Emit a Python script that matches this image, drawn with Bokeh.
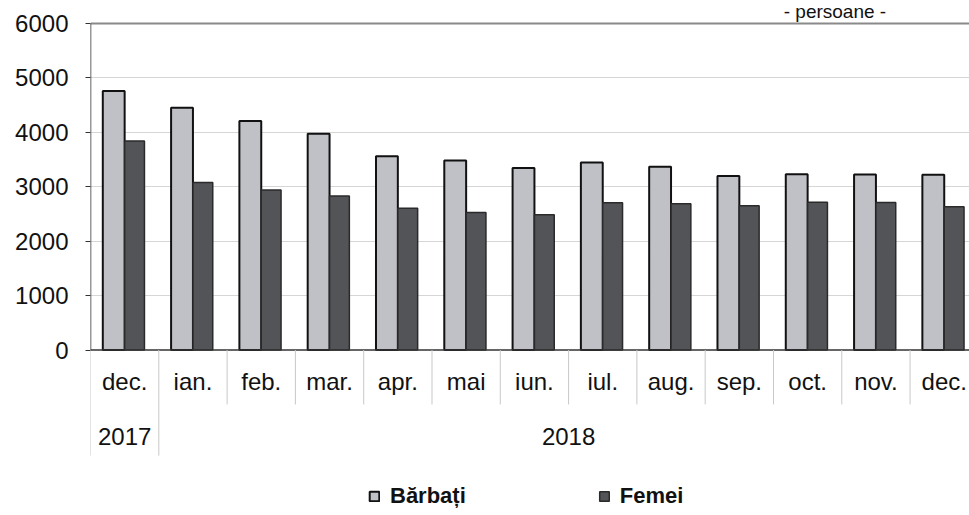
from bokeh.plotting import figure
from bokeh.models import Range1d, FixedTicker, ColumnDataSource, Legend, LegendItem
from bokeh.core.properties import value
from bokeh.embed import file_html
from bokeh.resources import INLINE

# ---- data ----
months = ["dec.", "ian.", "feb.", "mar.", "apr.", "mai", "iun.", "iul.", "aug.", "sep.", "oct.", "nov.", "dec."]
years = ["2017", "2018"]
year_counts = [1, 12]
barbati = [4760, 4450, 4210, 3975, 3560, 3485, 3345, 3445, 3370, 3200, 3230, 3225, 3220]
femei = [3840, 3080, 2940, 2830, 2605, 2525, 2485, 2705, 2690, 2650, 2715, 2710, 2635]
y_ticks = [0, 1000, 2000, 3000, 4000, 5000, 6000]
series_names = ["Bărbați", "Femei"]
unit_label = "- persoane -"

FONT = "Liberation Sans"
n = len(months)
idx = list(range(n))

p = figure(width=969, height=515, output_backend="svg", toolbar_location=None,
           x_range=Range1d(0, 12.87), y_range=Range1d(-3041, 6423),
           min_border_left=90, min_border_right=0, min_border_top=0, min_border_bottom=0)
p.outline_line_color = None
p.background_fill_color = "white"
p.border_fill_color = "white"

# axes
p.xaxis.visible = False
p.xgrid.visible = False
p.yaxis.ticker = FixedTicker(ticks=y_ticks)
p.yaxis.axis_line_color = None
p.yaxis.major_tick_in = 0
p.yaxis.major_tick_out = 5
p.yaxis.major_tick_line_color = "#333333"
p.yaxis.minor_tick_line_color = None
p.yaxis.major_label_standoff = 17
p.yaxis.major_label_text_font = FONT
p.yaxis.major_label_text_font_size = "24px"
p.yaxis.major_label_text_color = "#111111"
p.ygrid.ticker = FixedTicker(ticks=y_ticks[1:-1])
p.ygrid.grid_line_color = "#d6d6d6"
p.ygrid.grid_line_width = 1

# top border line at max tick
p.segment(x0=[0], x1=[n], y0=[y_ticks[-1]], y1=[y_ticks[-1]], line_color="#8a8a8a", line_width=2)

# bars
src = ColumnDataSource(dict(xb=[i + 0.34 for i in idx], xf=[i + 0.645 for i in idx],
                            b=barbati, f=femei))
rb = p.vbar(x="xb", top="b", bottom=0, width=0.32, source=src,
            fill_color="#bfc1c6", line_color="#111111", line_width=2)
rf = p.vbar(x="xf", top="f", bottom=0, width=0.29, source=src,
            fill_color="#535458", line_color="#2a2a2a", line_width=1.5)

# value axis line and zero line
p.segment(x0=[0], x1=[0], y0=[y_ticks[0]], y1=[y_ticks[-1]], line_color="#333333", line_width=1.5)
p.segment(x0=[0], x1=[n], y0=[0], y1=[0], line_color="#333333", line_width=1.5)

# category table separators
year_bounds = [0]
for c in year_counts:
    year_bounds.append(year_bounds[-1] + c)
month_bounds = [b for b in range(1, n) if b not in year_bounds]
p.segment(x0=month_bounds, x1=month_bounds, y0=[0] * len(month_bounds), y1=[-1000] * len(month_bounds),
          line_color="#c8c8c8", line_width=1)
p.segment(x0=year_bounds, x1=year_bounds, y0=[0] * len(year_bounds), y1=[-1940] * len(year_bounds),
          line_color="#c8c8c8", line_width=1)

# category labels
p.text(x=[i + 0.5 for i in idx], y=[-579] * n, text=months,
       text_font=value(FONT), text_font_size="24px", text_color="#111111",
       text_align="center", text_baseline="middle")
year_centers = [year_bounds[k] + year_counts[k] / 2 for k in range(len(years))]
p.text(x=year_centers, y=[-1590] * len(years), text=years,
       text_font=value(FONT), text_font_size="24px", text_color="#111111",
       text_align="center", text_baseline="middle")

# unit label (above the top line)
p.text(x=[10.9], y=[6030], text=[unit_label], text_font=value(FONT), text_font_size="19px",
       text_color="#111111", text_align="center", text_baseline="bottom")

# legend
legend = Legend(items=[LegendItem(label=series_names[0], renderers=[rb]),
                       LegendItem(label=series_names[1], renderers=[rf])],
                orientation="horizontal", location=(278, 6),
                glyph_width=12, glyph_height=12, label_standoff=10, spacing=132,
                padding=0, margin=0, border_line_color=None, background_fill_alpha=0,
                label_text_font=FONT, label_text_font_style="bold", label_text_font_size="22px",
                label_text_color="#111111")
p.add_layout(legend, "center")

open("out.html", "w").write(file_html(p, INLINE))
